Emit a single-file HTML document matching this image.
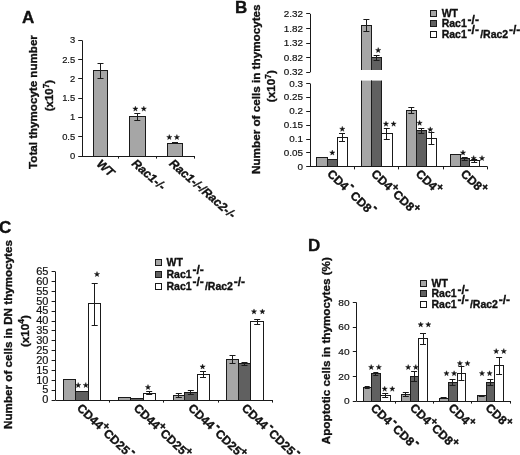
<!DOCTYPE html>
<html><head><meta charset="utf-8"><title>Figure</title>
<style>html,body{margin:0;padding:0;background:#fff;}svg{display:block;will-change:transform;}</style></head>
<body>
<svg width="520" height="455" viewBox="0 0 520 455" font-family="Liberation Sans, sans-serif">
<defs><filter id="soft" x="0" y="0" width="100%" height="100%" filterUnits="userSpaceOnUse" color-interpolation-filters="sRGB"><feGaussianBlur stdDeviation="0.4"/></filter></defs>
<rect x="0" y="0" width="520" height="455" fill="#ffffff"/>
<g filter="url(#soft)">
<rect x="-5" y="-5" width="530" height="465" fill="#ffffff"/>
<text x="22.00" y="22.50" font-size="17" font-weight="bold" font-style="normal" text-anchor="start" fill="#111111" stroke="#111111" stroke-width="0.35" >A</text>
<text x="235.00" y="12.50" font-size="17" font-weight="bold" font-style="normal" text-anchor="start" fill="#111111" stroke="#111111" stroke-width="0.35" >B</text>
<text x="-1.00" y="232.50" font-size="17" font-weight="bold" font-style="normal" text-anchor="start" fill="#111111" stroke="#111111" stroke-width="0.35" >C</text>
<text x="308.10" y="251.30" font-size="17" font-weight="bold" font-style="normal" text-anchor="start" fill="#111111" stroke="#111111" stroke-width="0.35" >D</text>
<line x1="82.50" y1="40.35" x2="82.50" y2="156.00" stroke="#1a1a1a" stroke-width="1"/>
<line x1="78.20" y1="156.50" x2="82.00" y2="156.50" stroke="#1a1a1a" stroke-width="1"/>
<text transform="translate(75.20 159.01) scale(1.0 1)" font-size="9.4" text-anchor="end" fill="#111111" stroke="#111111" stroke-width="0.18">0</text>
<line x1="78.20" y1="136.50" x2="82.00" y2="136.50" stroke="#1a1a1a" stroke-width="1"/>
<text transform="translate(75.20 139.73) scale(1.0 1)" font-size="9.4" text-anchor="end" fill="#111111" stroke="#111111" stroke-width="0.18">0.5</text>
<line x1="78.20" y1="117.50" x2="82.00" y2="117.50" stroke="#1a1a1a" stroke-width="1"/>
<text transform="translate(75.20 120.46) scale(1.0 1)" font-size="9.4" text-anchor="end" fill="#111111" stroke="#111111" stroke-width="0.18">1</text>
<line x1="78.20" y1="98.50" x2="82.00" y2="98.50" stroke="#1a1a1a" stroke-width="1"/>
<text transform="translate(75.20 101.18) scale(1.0 1)" font-size="9.4" text-anchor="end" fill="#111111" stroke="#111111" stroke-width="0.18">1.5</text>
<line x1="78.20" y1="78.50" x2="82.00" y2="78.50" stroke="#1a1a1a" stroke-width="1"/>
<text transform="translate(75.20 81.91) scale(1.0 1)" font-size="9.4" text-anchor="end" fill="#111111" stroke="#111111" stroke-width="0.18">2</text>
<line x1="78.20" y1="59.50" x2="82.00" y2="59.50" stroke="#1a1a1a" stroke-width="1"/>
<text transform="translate(75.20 62.63) scale(1.0 1)" font-size="9.4" text-anchor="end" fill="#111111" stroke="#111111" stroke-width="0.18">2.5</text>
<line x1="78.20" y1="40.50" x2="82.00" y2="40.50" stroke="#1a1a1a" stroke-width="1"/>
<text transform="translate(75.20 43.36) scale(1.0 1)" font-size="9.4" text-anchor="end" fill="#111111" stroke="#111111" stroke-width="0.18">3</text>
<line x1="82.00" y1="156.50" x2="194.00" y2="156.50" stroke="#1a1a1a" stroke-width="1"/>
<line x1="118.50" y1="156.00" x2="118.50" y2="158.60" stroke="#1a1a1a" stroke-width="1"/>
<line x1="156.50" y1="156.00" x2="156.50" y2="158.60" stroke="#1a1a1a" stroke-width="1"/>
<line x1="194.50" y1="156.00" x2="194.50" y2="158.60" stroke="#1a1a1a" stroke-width="1"/>
<rect x="93.50" y="70.50" width="14.00" height="86.00" fill="#a6a6a6" stroke="#1a1a1a" stroke-width="1"/>
<line x1="100.50" y1="63.00" x2="100.50" y2="78.00" stroke="#1a1a1a" stroke-width="1"/>
<line x1="97.50" y1="63.50" x2="103.50" y2="63.50" stroke="#1a1a1a" stroke-width="1"/>
<line x1="97.50" y1="78.50" x2="103.50" y2="78.50" stroke="#1a1a1a" stroke-width="1"/>
<rect x="129.50" y="116.50" width="16.00" height="40.00" fill="#a6a6a6" stroke="#1a1a1a" stroke-width="1"/>
<line x1="137.50" y1="113.20" x2="137.50" y2="120.00" stroke="#1a1a1a" stroke-width="1"/>
<line x1="134.30" y1="113.50" x2="140.30" y2="113.50" stroke="#1a1a1a" stroke-width="1"/>
<line x1="134.30" y1="120.50" x2="140.30" y2="120.50" stroke="#1a1a1a" stroke-width="1"/>
<rect x="167.50" y="143.50" width="15.00" height="13.00" fill="#a6a6a6" stroke="#1a1a1a" stroke-width="1"/>
<line x1="175.50" y1="142.30" x2="175.50" y2="143.70" stroke="#1a1a1a" stroke-width="1"/>
<line x1="172.00" y1="142.50" x2="178.00" y2="142.50" stroke="#1a1a1a" stroke-width="1"/>
<line x1="172.00" y1="143.50" x2="178.00" y2="143.50" stroke="#1a1a1a" stroke-width="1"/>
<polygon points="135.40,106.15 136.05,108.01 138.02,108.05 136.45,109.24 137.02,111.12 135.40,110.00 133.78,111.12 134.35,109.24 132.78,108.05 134.75,108.01" fill="#111" stroke="#111" stroke-width="0.4" stroke-linejoin="round"/>
<polygon points="143.80,106.15 144.45,108.01 146.42,108.05 144.85,109.24 145.42,111.12 143.80,110.00 142.18,111.12 142.75,109.24 141.18,108.05 143.15,108.01" fill="#111" stroke="#111" stroke-width="0.4" stroke-linejoin="round"/>
<polygon points="169.30,134.55 169.95,136.41 171.92,136.45 170.35,137.64 170.92,139.52 169.30,138.40 167.68,139.52 168.25,137.64 166.68,136.45 168.65,136.41" fill="#111" stroke="#111" stroke-width="0.4" stroke-linejoin="round"/>
<polygon points="176.90,134.55 177.55,136.41 179.52,136.45 177.95,137.64 178.52,139.52 176.90,138.40 175.28,139.52 175.85,137.64 174.28,136.45 176.25,136.41" fill="#111" stroke="#111" stroke-width="0.4" stroke-linejoin="round"/>
<text x="37.00" y="102.00" font-size="11.6" font-weight="bold" font-style="normal" text-anchor="middle" fill="#111111" stroke="#111111" stroke-width="0.35" transform="rotate(-90 37.00 102.00)" >Total thymocyte number</text>
<text x="53.00" y="95.50" font-size="11.4" font-weight="bold" font-style="normal" text-anchor="middle" fill="#111111" stroke="#111111" stroke-width="0.35" transform="rotate(-90 53.00 95.50)" >(x10<tspan dy="-4.5" font-size="8.5">7</tspan><tspan dy="4.5">)</tspan></text>
<text x="96.00" y="165.00" font-size="12" font-weight="bold" font-style="italic" text-anchor="start" fill="#111111" stroke="#111111" stroke-width="0.35" transform="rotate(41 96.00 165.00)" >WT</text>
<text x="131.00" y="164.50" font-size="12" font-weight="bold" font-style="italic" text-anchor="start" fill="#111111" stroke="#111111" stroke-width="0.35" transform="rotate(41 131.00 164.50)" >Rac1-/-</text>
<text x="168.50" y="164.50" font-size="12" font-weight="bold" font-style="italic" text-anchor="start" fill="#111111" stroke="#111111" stroke-width="0.35" transform="rotate(41 168.50 164.50)" >Rac1-/-/Rac2-/-</text>
<line x1="310.50" y1="83.50" x2="310.50" y2="166.80" stroke="#1a1a1a" stroke-width="1"/>
<line x1="306.20" y1="166.50" x2="310.00" y2="166.50" stroke="#1a1a1a" stroke-width="1"/>
<text transform="translate(302.90 169.97) scale(1.0 1)" font-size="9.9" text-anchor="end" fill="#111111" stroke="#111111" stroke-width="0.18">0</text>
<line x1="306.20" y1="152.50" x2="310.00" y2="152.50" stroke="#1a1a1a" stroke-width="1"/>
<text transform="translate(302.90 156.07) scale(1.0 1)" font-size="9.9" text-anchor="end" fill="#111111" stroke="#111111" stroke-width="0.18">0.05</text>
<line x1="306.20" y1="139.50" x2="310.00" y2="139.50" stroke="#1a1a1a" stroke-width="1"/>
<text transform="translate(302.90 142.17) scale(1.0 1)" font-size="9.9" text-anchor="end" fill="#111111" stroke="#111111" stroke-width="0.18">0.1</text>
<line x1="306.20" y1="125.50" x2="310.00" y2="125.50" stroke="#1a1a1a" stroke-width="1"/>
<text transform="translate(302.90 128.27) scale(1.0 1)" font-size="9.9" text-anchor="end" fill="#111111" stroke="#111111" stroke-width="0.18">0.15</text>
<line x1="306.20" y1="111.50" x2="310.00" y2="111.50" stroke="#1a1a1a" stroke-width="1"/>
<text transform="translate(302.90 114.37) scale(1.0 1)" font-size="9.9" text-anchor="end" fill="#111111" stroke="#111111" stroke-width="0.18">0.2</text>
<line x1="306.20" y1="97.50" x2="310.00" y2="97.50" stroke="#1a1a1a" stroke-width="1"/>
<text transform="translate(302.90 100.47) scale(1.0 1)" font-size="9.9" text-anchor="end" fill="#111111" stroke="#111111" stroke-width="0.18">0.25</text>
<line x1="306.20" y1="83.50" x2="310.00" y2="83.50" stroke="#1a1a1a" stroke-width="1"/>
<text transform="translate(302.90 86.57) scale(1.0 1)" font-size="9.9" text-anchor="end" fill="#111111" stroke="#111111" stroke-width="0.18">0.3</text>
<line x1="310.50" y1="13.80" x2="310.50" y2="72.30" stroke="#1a1a1a" stroke-width="1"/>
<line x1="306.20" y1="72.50" x2="310.00" y2="72.50" stroke="#1a1a1a" stroke-width="1"/>
<text transform="translate(302.90 75.47) scale(1.0 1)" font-size="9.9" text-anchor="end" fill="#111111" stroke="#111111" stroke-width="0.18">0.32</text>
<line x1="306.20" y1="57.50" x2="310.00" y2="57.50" stroke="#1a1a1a" stroke-width="1"/>
<text transform="translate(302.90 60.77) scale(1.0 1)" font-size="9.9" text-anchor="end" fill="#111111" stroke="#111111" stroke-width="0.18">0.82</text>
<line x1="306.20" y1="43.50" x2="310.00" y2="43.50" stroke="#1a1a1a" stroke-width="1"/>
<text transform="translate(302.90 46.17) scale(1.0 1)" font-size="9.9" text-anchor="end" fill="#111111" stroke="#111111" stroke-width="0.18">1.32</text>
<line x1="306.20" y1="28.50" x2="310.00" y2="28.50" stroke="#1a1a1a" stroke-width="1"/>
<text transform="translate(302.90 31.57) scale(1.0 1)" font-size="9.9" text-anchor="end" fill="#111111" stroke="#111111" stroke-width="0.18">1.82</text>
<line x1="306.20" y1="13.50" x2="310.00" y2="13.50" stroke="#1a1a1a" stroke-width="1"/>
<text transform="translate(302.90 16.97) scale(1.0 1)" font-size="9.9" text-anchor="end" fill="#111111" stroke="#111111" stroke-width="0.18">2.32</text>
<line x1="310.00" y1="166.50" x2="487.60" y2="166.50" stroke="#1a1a1a" stroke-width="1"/>
<line x1="354.50" y1="166.80" x2="354.50" y2="169.40" stroke="#1a1a1a" stroke-width="1"/>
<line x1="398.50" y1="166.80" x2="398.50" y2="169.40" stroke="#1a1a1a" stroke-width="1"/>
<line x1="443.50" y1="166.80" x2="443.50" y2="169.40" stroke="#1a1a1a" stroke-width="1"/>
<line x1="487.50" y1="166.80" x2="487.50" y2="169.40" stroke="#1a1a1a" stroke-width="1"/>
<rect x="316.50" y="157.50" width="11.00" height="9.00" fill="#a6a6a6" stroke="#1a1a1a" stroke-width="1"/>
<rect x="327.50" y="159.50" width="10.00" height="7.00" fill="#606060" stroke="#1a1a1a" stroke-width="1"/>
<rect x="337.50" y="137.50" width="10.00" height="29.00" fill="#ffffff" stroke="#1a1a1a" stroke-width="1"/>
<line x1="342.50" y1="133.50" x2="342.50" y2="141.00" stroke="#1a1a1a" stroke-width="1"/>
<line x1="339.00" y1="133.50" x2="345.00" y2="133.50" stroke="#1a1a1a" stroke-width="1"/>
<line x1="339.00" y1="141.50" x2="345.00" y2="141.50" stroke="#1a1a1a" stroke-width="1"/>
<rect x="361.50" y="80.60" width="10.00" height="86.20" fill="#a6a6a6"/>
<line x1="361.50" y1="80.60" x2="361.50" y2="166.80" stroke="#1a1a1a" stroke-width="1"/>
<line x1="371.50" y1="80.60" x2="371.50" y2="166.80" stroke="#1a1a1a" stroke-width="1"/>
<line x1="361.00" y1="166.50" x2="372.00" y2="166.50" stroke="#1a1a1a" stroke-width="1"/>
<rect x="371.50" y="80.60" width="10.00" height="86.20" fill="#606060"/>
<line x1="371.50" y1="80.60" x2="371.50" y2="166.80" stroke="#1a1a1a" stroke-width="1"/>
<line x1="381.50" y1="80.60" x2="381.50" y2="166.80" stroke="#1a1a1a" stroke-width="1"/>
<line x1="371.00" y1="166.50" x2="382.00" y2="166.50" stroke="#1a1a1a" stroke-width="1"/>
<rect x="381.50" y="133.50" width="11.00" height="33.00" fill="#ffffff" stroke="#1a1a1a" stroke-width="1"/>
<line x1="386.50" y1="128.50" x2="386.50" y2="139.50" stroke="#1a1a1a" stroke-width="1"/>
<line x1="383.80" y1="128.50" x2="389.80" y2="128.50" stroke="#1a1a1a" stroke-width="1"/>
<line x1="383.80" y1="139.50" x2="389.80" y2="139.50" stroke="#1a1a1a" stroke-width="1"/>
<rect x="361.50" y="25.20" width="10.00" height="44.80" fill="#a6a6a6"/>
<line x1="361.50" y1="25.20" x2="361.50" y2="70.00" stroke="#1a1a1a" stroke-width="1"/>
<line x1="371.50" y1="25.20" x2="371.50" y2="70.00" stroke="#1a1a1a" stroke-width="1"/>
<line x1="361.00" y1="25.50" x2="372.00" y2="25.50" stroke="#1a1a1a" stroke-width="1"/>
<rect x="371.50" y="57.80" width="10.00" height="12.20" fill="#606060"/>
<line x1="371.50" y1="57.80" x2="371.50" y2="70.00" stroke="#1a1a1a" stroke-width="1"/>
<line x1="381.50" y1="57.80" x2="381.50" y2="70.00" stroke="#1a1a1a" stroke-width="1"/>
<line x1="371.00" y1="57.50" x2="382.00" y2="57.50" stroke="#1a1a1a" stroke-width="1"/>
<line x1="366.50" y1="19.00" x2="366.50" y2="31.70" stroke="#1a1a1a" stroke-width="1"/>
<line x1="363.40" y1="19.50" x2="369.40" y2="19.50" stroke="#1a1a1a" stroke-width="1"/>
<line x1="363.40" y1="31.50" x2="369.40" y2="31.50" stroke="#1a1a1a" stroke-width="1"/>
<line x1="376.50" y1="55.50" x2="376.50" y2="60.00" stroke="#1a1a1a" stroke-width="1"/>
<line x1="373.60" y1="55.50" x2="379.60" y2="55.50" stroke="#1a1a1a" stroke-width="1"/>
<line x1="373.60" y1="60.50" x2="379.60" y2="60.50" stroke="#1a1a1a" stroke-width="1"/>
<rect x="406.50" y="110.50" width="10.00" height="56.00" fill="#a6a6a6" stroke="#1a1a1a" stroke-width="1"/>
<rect x="416.50" y="130.50" width="10.00" height="36.00" fill="#606060" stroke="#1a1a1a" stroke-width="1"/>
<rect x="426.50" y="138.50" width="10.00" height="28.00" fill="#ffffff" stroke="#1a1a1a" stroke-width="1"/>
<line x1="411.50" y1="107.00" x2="411.50" y2="113.00" stroke="#1a1a1a" stroke-width="1"/>
<line x1="408.30" y1="107.50" x2="414.30" y2="107.50" stroke="#1a1a1a" stroke-width="1"/>
<line x1="408.30" y1="113.50" x2="414.30" y2="113.50" stroke="#1a1a1a" stroke-width="1"/>
<line x1="421.50" y1="128.20" x2="421.50" y2="133.30" stroke="#1a1a1a" stroke-width="1"/>
<line x1="418.30" y1="128.50" x2="424.30" y2="128.50" stroke="#1a1a1a" stroke-width="1"/>
<line x1="418.30" y1="133.50" x2="424.30" y2="133.50" stroke="#1a1a1a" stroke-width="1"/>
<line x1="431.50" y1="132.00" x2="431.50" y2="144.00" stroke="#1a1a1a" stroke-width="1"/>
<line x1="428.40" y1="132.50" x2="434.40" y2="132.50" stroke="#1a1a1a" stroke-width="1"/>
<line x1="428.40" y1="144.50" x2="434.40" y2="144.50" stroke="#1a1a1a" stroke-width="1"/>
<rect x="450.50" y="154.50" width="10.00" height="12.00" fill="#a6a6a6" stroke="#1a1a1a" stroke-width="1"/>
<rect x="460.50" y="158.50" width="9.00" height="8.00" fill="#606060" stroke="#1a1a1a" stroke-width="1"/>
<rect x="469.50" y="160.50" width="10.00" height="6.00" fill="#ffffff" stroke="#1a1a1a" stroke-width="1"/>
<line x1="464.50" y1="157.50" x2="464.50" y2="160.00" stroke="#1a1a1a" stroke-width="1"/>
<line x1="461.70" y1="157.50" x2="467.70" y2="157.50" stroke="#1a1a1a" stroke-width="1"/>
<line x1="461.70" y1="160.50" x2="467.70" y2="160.50" stroke="#1a1a1a" stroke-width="1"/>
<line x1="474.50" y1="159.50" x2="474.50" y2="162.00" stroke="#1a1a1a" stroke-width="1"/>
<line x1="471.20" y1="159.50" x2="477.20" y2="159.50" stroke="#1a1a1a" stroke-width="1"/>
<line x1="471.20" y1="162.50" x2="477.20" y2="162.50" stroke="#1a1a1a" stroke-width="1"/>
<polygon points="332.30,150.05 332.95,151.91 334.92,151.95 333.35,153.14 333.92,155.02 332.30,153.90 330.68,155.02 331.25,153.14 329.68,151.95 331.65,151.91" fill="#111" stroke="#111" stroke-width="0.4" stroke-linejoin="round"/>
<polygon points="342.30,126.35 342.95,128.21 344.92,128.25 343.35,129.44 343.92,131.32 342.30,130.20 340.68,131.32 341.25,129.44 339.68,128.25 341.65,128.21" fill="#111" stroke="#111" stroke-width="0.4" stroke-linejoin="round"/>
<polygon points="378.20,47.55 378.85,49.41 380.82,49.45 379.25,50.64 379.82,52.52 378.20,51.40 376.58,52.52 377.15,50.64 375.58,49.45 377.55,49.41" fill="#111" stroke="#111" stroke-width="0.4" stroke-linejoin="round"/>
<polygon points="386.00,121.25 386.65,123.11 388.62,123.15 387.05,124.34 387.62,126.22 386.00,125.10 384.38,126.22 384.95,124.34 383.38,123.15 385.35,123.11" fill="#111" stroke="#111" stroke-width="0.4" stroke-linejoin="round"/>
<polygon points="393.60,121.25 394.25,123.11 396.22,123.15 394.65,124.34 395.22,126.22 393.60,125.10 391.98,126.22 392.55,124.34 390.98,123.15 392.95,123.11" fill="#111" stroke="#111" stroke-width="0.4" stroke-linejoin="round"/>
<polygon points="419.60,120.35 420.25,122.21 422.22,122.25 420.65,123.44 421.22,125.32 419.60,124.20 417.98,125.32 418.55,123.44 416.98,122.25 418.95,122.21" fill="#111" stroke="#111" stroke-width="0.4" stroke-linejoin="round"/>
<polygon points="430.30,126.85 430.95,128.71 432.92,128.75 431.35,129.94 431.92,131.82 430.30,130.70 428.68,131.82 429.25,129.94 427.68,128.75 429.65,128.71" fill="#111" stroke="#111" stroke-width="0.4" stroke-linejoin="round"/>
<polygon points="463.00,150.05 463.65,151.91 465.62,151.95 464.05,153.14 464.62,155.02 463.00,153.90 461.38,155.02 461.95,153.14 460.38,151.95 462.35,151.91" fill="#111" stroke="#111" stroke-width="0.4" stroke-linejoin="round"/>
<polygon points="473.70,155.55 474.35,157.41 476.32,157.45 474.75,158.64 475.32,160.52 473.70,159.40 472.08,160.52 472.65,158.64 471.08,157.45 473.05,157.41" fill="#111" stroke="#111" stroke-width="0.4" stroke-linejoin="round"/>
<polygon points="482.00,155.55 482.65,157.41 484.62,157.45 483.05,158.64 483.62,160.52 482.00,159.40 480.38,160.52 480.95,158.64 479.38,157.45 481.35,157.41" fill="#111" stroke="#111" stroke-width="0.4" stroke-linejoin="round"/>
<text x="260.50" y="89.20" font-size="11.7" font-weight="bold" font-style="normal" text-anchor="middle" fill="#111111" stroke="#111111" stroke-width="0.35" transform="rotate(-90 260.50 89.20)" >Number of cells in thymocytes</text>
<text x="275.30" y="86.10" font-size="11.7" font-weight="bold" font-style="normal" text-anchor="middle" fill="#111111" stroke="#111111" stroke-width="0.35" transform="rotate(-90 275.30 86.10)" >(x10<tspan dy="-4.5" font-size="8.5">7</tspan><tspan dy="4.5">)</tspan></text>
<rect x="430.50" y="10.50" width="6.00" height="6.00" fill="#a6a6a6" stroke="#1a1a1a" stroke-width="1"/>
<text x="441.70" y="16.50" font-size="10.5" font-weight="bold" font-style="normal" text-anchor="start" fill="#111111" stroke="#111111" stroke-width="0.35" >WT</text>
<rect x="430.50" y="20.50" width="6.00" height="6.00" fill="#606060" stroke="#1a1a1a" stroke-width="1"/>
<text x="441.70" y="27.00" font-size="10.5" font-weight="bold" font-style="normal" text-anchor="start" fill="#111111" stroke="#111111" stroke-width="0.35" >Rac1<tspan dy="-3.5" dx="0.8" font-size="12">-/-</tspan></text>
<rect x="430.50" y="31.50" width="6.00" height="6.00" fill="#ffffff" stroke="#1a1a1a" stroke-width="1"/>
<text x="441.70" y="37.50" font-size="10.5" font-weight="bold" font-style="normal" text-anchor="start" fill="#111111" stroke="#111111" stroke-width="0.35" >Rac1<tspan dy="-3.5" dx="0.8" font-size="12">-/-</tspan><tspan dy="3.5" dx="1.2">/Rac2</tspan><tspan dy="-3.5" dx="0.8" font-size="12">-/-</tspan></text>
<text x="326.50" y="174.70" font-size="12" font-weight="bold" font-style="normal" text-anchor="start" fill="#111111" stroke="#111111" stroke-width="0.35" transform="rotate(43.5 326.50 174.70)" >CD4<tspan dy="-6.3" dx="0.2" font-size="13">-</tspan><tspan dy="6.3" dx="3.2">CD8</tspan><tspan dy="-6.3" dx="0.2" font-size="13">-</tspan><tspan dy="6.3" dx="3.2"></tspan></text>
<text x="370.50" y="174.70" font-size="12" font-weight="bold" font-style="normal" text-anchor="start" fill="#111111" stroke="#111111" stroke-width="0.35" transform="rotate(43.5 370.50 174.70)" >CD4<tspan dy="-4.6" dx="-0.45" font-size="11">+</tspan><tspan dy="4.6" dx="-0.15">CD8</tspan><tspan dy="-4.6" dx="-0.45" font-size="11">+</tspan><tspan dy="4.6" dx="-0.15"></tspan></text>
<text x="415.00" y="174.70" font-size="12" font-weight="bold" font-style="normal" text-anchor="start" fill="#111111" stroke="#111111" stroke-width="0.35" transform="rotate(43.5 415.00 174.70)" >CD4<tspan dy="-4.6" dx="-0.45" font-size="11">+</tspan><tspan dy="4.6" dx="-0.15"></tspan></text>
<text x="460.00" y="174.70" font-size="12" font-weight="bold" font-style="normal" text-anchor="start" fill="#111111" stroke="#111111" stroke-width="0.35" transform="rotate(43.5 460.00 174.70)" >CD8<tspan dy="-4.6" dx="-0.45" font-size="11">+</tspan><tspan dy="4.6" dx="-0.15"></tspan></text>
<line x1="55.50" y1="271.70" x2="55.50" y2="400.00" stroke="#1a1a1a" stroke-width="1"/>
<line x1="51.60" y1="400.50" x2="55.40" y2="400.50" stroke="#1a1a1a" stroke-width="1"/>
<text transform="translate(48.40 403.30) scale(1.07 1)" font-size="10.3" text-anchor="end" fill="#111111" stroke="#111111" stroke-width="0.18">0</text>
<line x1="51.60" y1="390.50" x2="55.40" y2="390.50" stroke="#1a1a1a" stroke-width="1"/>
<text transform="translate(48.40 393.43) scale(1.07 1)" font-size="10.3" text-anchor="end" fill="#111111" stroke="#111111" stroke-width="0.18">5</text>
<line x1="51.60" y1="380.50" x2="55.40" y2="380.50" stroke="#1a1a1a" stroke-width="1"/>
<text transform="translate(48.40 383.56) scale(1.07 1)" font-size="10.3" text-anchor="end" fill="#111111" stroke="#111111" stroke-width="0.18">10</text>
<line x1="51.60" y1="370.50" x2="55.40" y2="370.50" stroke="#1a1a1a" stroke-width="1"/>
<text transform="translate(48.40 373.69) scale(1.07 1)" font-size="10.3" text-anchor="end" fill="#111111" stroke="#111111" stroke-width="0.18">15</text>
<line x1="51.60" y1="360.50" x2="55.40" y2="360.50" stroke="#1a1a1a" stroke-width="1"/>
<text transform="translate(48.40 363.82) scale(1.07 1)" font-size="10.3" text-anchor="end" fill="#111111" stroke="#111111" stroke-width="0.18">20</text>
<line x1="51.60" y1="350.50" x2="55.40" y2="350.50" stroke="#1a1a1a" stroke-width="1"/>
<text transform="translate(48.40 353.95) scale(1.07 1)" font-size="10.3" text-anchor="end" fill="#111111" stroke="#111111" stroke-width="0.18">25</text>
<line x1="51.60" y1="340.50" x2="55.40" y2="340.50" stroke="#1a1a1a" stroke-width="1"/>
<text transform="translate(48.40 344.08) scale(1.07 1)" font-size="10.3" text-anchor="end" fill="#111111" stroke="#111111" stroke-width="0.18">30</text>
<line x1="51.60" y1="330.50" x2="55.40" y2="330.50" stroke="#1a1a1a" stroke-width="1"/>
<text transform="translate(48.40 334.21) scale(1.07 1)" font-size="10.3" text-anchor="end" fill="#111111" stroke="#111111" stroke-width="0.18">35</text>
<line x1="51.60" y1="321.50" x2="55.40" y2="321.50" stroke="#1a1a1a" stroke-width="1"/>
<text transform="translate(48.40 324.34) scale(1.07 1)" font-size="10.3" text-anchor="end" fill="#111111" stroke="#111111" stroke-width="0.18">40</text>
<line x1="51.60" y1="311.50" x2="55.40" y2="311.50" stroke="#1a1a1a" stroke-width="1"/>
<text transform="translate(48.40 314.47) scale(1.07 1)" font-size="10.3" text-anchor="end" fill="#111111" stroke="#111111" stroke-width="0.18">45</text>
<line x1="51.60" y1="301.50" x2="55.40" y2="301.50" stroke="#1a1a1a" stroke-width="1"/>
<text transform="translate(48.40 304.60) scale(1.07 1)" font-size="10.3" text-anchor="end" fill="#111111" stroke="#111111" stroke-width="0.18">50</text>
<line x1="51.60" y1="291.50" x2="55.40" y2="291.50" stroke="#1a1a1a" stroke-width="1"/>
<text transform="translate(48.40 294.73) scale(1.07 1)" font-size="10.3" text-anchor="end" fill="#111111" stroke="#111111" stroke-width="0.18">55</text>
<line x1="51.60" y1="281.50" x2="55.40" y2="281.50" stroke="#1a1a1a" stroke-width="1"/>
<text transform="translate(48.40 284.86) scale(1.07 1)" font-size="10.3" text-anchor="end" fill="#111111" stroke="#111111" stroke-width="0.18">60</text>
<line x1="51.60" y1="271.50" x2="55.40" y2="271.50" stroke="#1a1a1a" stroke-width="1"/>
<text transform="translate(48.40 274.99) scale(1.07 1)" font-size="10.3" text-anchor="end" fill="#111111" stroke="#111111" stroke-width="0.18">65</text>
<line x1="55.40" y1="400.50" x2="272.50" y2="400.50" stroke="#1a1a1a" stroke-width="1"/>
<line x1="109.50" y1="400.00" x2="109.50" y2="402.60" stroke="#1a1a1a" stroke-width="1"/>
<line x1="163.50" y1="400.00" x2="163.50" y2="402.60" stroke="#1a1a1a" stroke-width="1"/>
<line x1="218.50" y1="400.00" x2="218.50" y2="402.60" stroke="#1a1a1a" stroke-width="1"/>
<line x1="272.50" y1="400.00" x2="272.50" y2="402.60" stroke="#1a1a1a" stroke-width="1"/>
<rect x="63.50" y="379.50" width="12.00" height="21.00" fill="#a6a6a6" stroke="#1a1a1a" stroke-width="1"/>
<rect x="75.50" y="391.50" width="13.00" height="9.00" fill="#606060" stroke="#1a1a1a" stroke-width="1"/>
<rect x="88.50" y="303.50" width="12.00" height="97.00" fill="#ffffff" stroke="#1a1a1a" stroke-width="1"/>
<line x1="94.50" y1="283.00" x2="94.50" y2="325.50" stroke="#1a1a1a" stroke-width="1"/>
<line x1="91.70" y1="283.50" x2="97.70" y2="283.50" stroke="#1a1a1a" stroke-width="1"/>
<line x1="91.70" y1="325.50" x2="97.70" y2="325.50" stroke="#1a1a1a" stroke-width="1"/>
<rect x="118.50" y="397.50" width="12.00" height="3.00" fill="#a6a6a6" stroke="#1a1a1a" stroke-width="1"/>
<rect x="130.50" y="398.50" width="13.00" height="2.00" fill="#606060" stroke="#1a1a1a" stroke-width="1"/>
<rect x="143.50" y="393.50" width="12.00" height="7.00" fill="#ffffff" stroke="#1a1a1a" stroke-width="1"/>
<line x1="149.50" y1="391.50" x2="149.50" y2="394.50" stroke="#1a1a1a" stroke-width="1"/>
<line x1="146.20" y1="391.50" x2="152.20" y2="391.50" stroke="#1a1a1a" stroke-width="1"/>
<line x1="146.20" y1="394.50" x2="152.20" y2="394.50" stroke="#1a1a1a" stroke-width="1"/>
<rect x="173.50" y="395.50" width="11.00" height="5.00" fill="#a6a6a6" stroke="#1a1a1a" stroke-width="1"/>
<rect x="184.50" y="392.50" width="13.00" height="8.00" fill="#606060" stroke="#1a1a1a" stroke-width="1"/>
<rect x="197.50" y="374.50" width="12.00" height="26.00" fill="#ffffff" stroke="#1a1a1a" stroke-width="1"/>
<line x1="178.50" y1="393.50" x2="178.50" y2="397.00" stroke="#1a1a1a" stroke-width="1"/>
<line x1="175.80" y1="393.50" x2="181.80" y2="393.50" stroke="#1a1a1a" stroke-width="1"/>
<line x1="175.80" y1="397.50" x2="181.80" y2="397.50" stroke="#1a1a1a" stroke-width="1"/>
<line x1="190.50" y1="390.50" x2="190.50" y2="394.00" stroke="#1a1a1a" stroke-width="1"/>
<line x1="187.80" y1="390.50" x2="193.80" y2="390.50" stroke="#1a1a1a" stroke-width="1"/>
<line x1="187.80" y1="394.50" x2="193.80" y2="394.50" stroke="#1a1a1a" stroke-width="1"/>
<line x1="203.50" y1="371.50" x2="203.50" y2="377.50" stroke="#1a1a1a" stroke-width="1"/>
<line x1="200.00" y1="371.50" x2="206.00" y2="371.50" stroke="#1a1a1a" stroke-width="1"/>
<line x1="200.00" y1="377.50" x2="206.00" y2="377.50" stroke="#1a1a1a" stroke-width="1"/>
<rect x="226.50" y="359.50" width="12.00" height="41.00" fill="#a6a6a6" stroke="#1a1a1a" stroke-width="1"/>
<rect x="238.50" y="363.50" width="12.00" height="37.00" fill="#606060" stroke="#1a1a1a" stroke-width="1"/>
<rect x="250.50" y="321.50" width="13.00" height="79.00" fill="#ffffff" stroke="#1a1a1a" stroke-width="1"/>
<line x1="232.50" y1="355.40" x2="232.50" y2="363.00" stroke="#1a1a1a" stroke-width="1"/>
<line x1="229.50" y1="355.50" x2="235.50" y2="355.50" stroke="#1a1a1a" stroke-width="1"/>
<line x1="229.50" y1="363.50" x2="235.50" y2="363.50" stroke="#1a1a1a" stroke-width="1"/>
<line x1="244.50" y1="362.50" x2="244.50" y2="365.00" stroke="#1a1a1a" stroke-width="1"/>
<line x1="241.50" y1="362.50" x2="247.50" y2="362.50" stroke="#1a1a1a" stroke-width="1"/>
<line x1="241.50" y1="365.50" x2="247.50" y2="365.50" stroke="#1a1a1a" stroke-width="1"/>
<line x1="257.50" y1="319.00" x2="257.50" y2="324.00" stroke="#1a1a1a" stroke-width="1"/>
<line x1="254.20" y1="319.50" x2="260.20" y2="319.50" stroke="#1a1a1a" stroke-width="1"/>
<line x1="254.20" y1="324.50" x2="260.20" y2="324.50" stroke="#1a1a1a" stroke-width="1"/>
<polygon points="97.00,271.55 97.65,273.41 99.62,273.45 98.05,274.64 98.62,276.52 97.00,275.40 95.38,276.52 95.95,274.64 94.38,273.45 96.35,273.41" fill="#111" stroke="#111" stroke-width="0.4" stroke-linejoin="round"/>
<polygon points="78.20,382.55 78.85,384.41 80.82,384.45 79.25,385.64 79.82,387.52 78.20,386.40 76.58,387.52 77.15,385.64 75.58,384.45 77.55,384.41" fill="#111" stroke="#111" stroke-width="0.4" stroke-linejoin="round"/>
<polygon points="85.80,382.55 86.45,384.41 88.42,384.45 86.85,385.64 87.42,387.52 85.80,386.40 84.18,387.52 84.75,385.64 83.18,384.45 85.15,384.41" fill="#111" stroke="#111" stroke-width="0.4" stroke-linejoin="round"/>
<polygon points="148.00,384.55 148.65,386.41 150.62,386.45 149.05,387.64 149.62,389.52 148.00,388.40 146.38,389.52 146.95,387.64 145.38,386.45 147.35,386.41" fill="#111" stroke="#111" stroke-width="0.4" stroke-linejoin="round"/>
<polygon points="202.60,364.05 203.25,365.91 205.22,365.95 203.65,367.14 204.22,369.02 202.60,367.90 200.98,369.02 201.55,367.14 199.98,365.95 201.95,365.91" fill="#111" stroke="#111" stroke-width="0.4" stroke-linejoin="round"/>
<polygon points="254.00,308.95 254.65,310.81 256.62,310.85 255.05,312.04 255.62,313.92 254.00,312.80 252.38,313.92 252.95,312.04 251.38,310.85 253.35,310.81" fill="#111" stroke="#111" stroke-width="0.4" stroke-linejoin="round"/>
<polygon points="262.40,308.95 263.05,310.81 265.02,310.85 263.45,312.04 264.02,313.92 262.40,312.80 260.78,313.92 261.35,312.04 259.78,310.85 261.75,310.81" fill="#111" stroke="#111" stroke-width="0.4" stroke-linejoin="round"/>
<text x="11.50" y="334.50" font-size="11.65" font-weight="bold" font-style="normal" text-anchor="middle" fill="#111111" stroke="#111111" stroke-width="0.35" transform="rotate(-90 11.50 334.50)" >Number of cells in DN thymocytes</text>
<text x="28.50" y="331.00" font-size="11.7" font-weight="bold" font-style="normal" text-anchor="middle" fill="#111111" stroke="#111111" stroke-width="0.35" transform="rotate(-90 28.50 331.00)" >(x10<tspan dy="-4.5" font-size="8.5">4</tspan><tspan dy="4.5">)</tspan></text>
<rect x="155.50" y="259.50" width="6.00" height="6.00" fill="#a6a6a6" stroke="#1a1a1a" stroke-width="1"/>
<text x="166.50" y="265.90" font-size="10.5" font-weight="bold" font-style="normal" text-anchor="start" fill="#111111" stroke="#111111" stroke-width="0.35" >WT</text>
<rect x="155.50" y="271.50" width="6.00" height="6.00" fill="#606060" stroke="#1a1a1a" stroke-width="1"/>
<text x="166.50" y="277.70" font-size="10.5" font-weight="bold" font-style="normal" text-anchor="start" fill="#111111" stroke="#111111" stroke-width="0.35" >Rac1<tspan dy="-3.5" dx="0.8" font-size="12">-/-</tspan></text>
<rect x="155.50" y="283.50" width="6.00" height="6.00" fill="#ffffff" stroke="#1a1a1a" stroke-width="1"/>
<text x="166.50" y="289.50" font-size="10.5" font-weight="bold" font-style="normal" text-anchor="start" fill="#111111" stroke="#111111" stroke-width="0.35" >Rac1<tspan dy="-3.5" dx="0.8" font-size="12">-/-</tspan><tspan dy="3.5" dx="1.2">/Rac2</tspan><tspan dy="-3.5" dx="0.8" font-size="12">-/-</tspan></text>
<text x="76.30" y="409.00" font-size="12" font-weight="bold" font-style="normal" text-anchor="start" fill="#111111" stroke="#111111" stroke-width="0.35" transform="rotate(43.5 76.30 409.00)" >CD44<tspan dy="-4.6" dx="-0.45" font-size="11">+</tspan><tspan dy="4.6" dx="-0.15">CD25</tspan><tspan dy="-5.0" dx="1.5" font-size="13">-</tspan><tspan dy="5.0" dx="0.7"></tspan></text>
<text x="133.00" y="409.00" font-size="12" font-weight="bold" font-style="normal" text-anchor="start" fill="#111111" stroke="#111111" stroke-width="0.35" transform="rotate(43.5 133.00 409.00)" >CD44<tspan dy="-4.6" dx="-0.45" font-size="11">+</tspan><tspan dy="4.6" dx="-0.15">CD25</tspan><tspan dy="-4.6" dx="-0.45" font-size="11">+</tspan><tspan dy="4.6" dx="-0.15"></tspan></text>
<text x="187.50" y="409.00" font-size="12" font-weight="bold" font-style="normal" text-anchor="start" fill="#111111" stroke="#111111" stroke-width="0.35" transform="rotate(43.5 187.50 409.00)" >CD44<tspan dy="-5.0" dx="1.5" font-size="13">-</tspan><tspan dy="5.0" dx="0.7">CD25</tspan><tspan dy="-4.6" dx="-0.45" font-size="11">+</tspan><tspan dy="4.6" dx="-0.15"></tspan></text>
<text x="241.00" y="409.00" font-size="12" font-weight="bold" font-style="normal" text-anchor="start" fill="#111111" stroke="#111111" stroke-width="0.35" transform="rotate(43.5 241.00 409.00)" >CD44<tspan dy="-5.0" dx="1.5" font-size="13">-</tspan><tspan dy="5.0" dx="0.7">CD25</tspan><tspan dy="-5.0" dx="1.5" font-size="13">-</tspan><tspan dy="5.0" dx="0.7"></tspan></text>
<line x1="356.50" y1="302.60" x2="356.50" y2="401.00" stroke="#1a1a1a" stroke-width="1"/>
<line x1="352.80" y1="401.50" x2="356.60" y2="401.50" stroke="#1a1a1a" stroke-width="1"/>
<text transform="translate(349.60 404.14) scale(1.04 1)" font-size="9.8" text-anchor="end" fill="#111111" stroke="#111111" stroke-width="0.18">0</text>
<line x1="352.80" y1="376.50" x2="356.60" y2="376.50" stroke="#1a1a1a" stroke-width="1"/>
<text transform="translate(349.60 379.54) scale(1.04 1)" font-size="9.8" text-anchor="end" fill="#111111" stroke="#111111" stroke-width="0.18">20</text>
<line x1="352.80" y1="351.50" x2="356.60" y2="351.50" stroke="#1a1a1a" stroke-width="1"/>
<text transform="translate(349.60 354.94) scale(1.04 1)" font-size="9.8" text-anchor="end" fill="#111111" stroke="#111111" stroke-width="0.18">40</text>
<line x1="352.80" y1="327.50" x2="356.60" y2="327.50" stroke="#1a1a1a" stroke-width="1"/>
<text transform="translate(349.60 330.34) scale(1.04 1)" font-size="9.8" text-anchor="end" fill="#111111" stroke="#111111" stroke-width="0.18">60</text>
<line x1="352.80" y1="302.50" x2="356.60" y2="302.50" stroke="#1a1a1a" stroke-width="1"/>
<text transform="translate(349.60 305.74) scale(1.04 1)" font-size="9.8" text-anchor="end" fill="#111111" stroke="#111111" stroke-width="0.18">80</text>
<line x1="356.60" y1="401.50" x2="510.00" y2="401.50" stroke="#1a1a1a" stroke-width="1"/>
<line x1="395.50" y1="401.00" x2="395.50" y2="403.60" stroke="#1a1a1a" stroke-width="1"/>
<line x1="433.50" y1="401.00" x2="433.50" y2="403.60" stroke="#1a1a1a" stroke-width="1"/>
<line x1="471.50" y1="401.00" x2="471.50" y2="403.60" stroke="#1a1a1a" stroke-width="1"/>
<line x1="510.50" y1="401.00" x2="510.50" y2="403.60" stroke="#1a1a1a" stroke-width="1"/>
<rect x="363.50" y="387.50" width="8.00" height="14.00" fill="#a6a6a6" stroke="#1a1a1a" stroke-width="1"/>
<rect x="371.50" y="373.50" width="9.00" height="28.00" fill="#606060" stroke="#1a1a1a" stroke-width="1"/>
<rect x="380.50" y="395.50" width="10.00" height="6.00" fill="#ffffff" stroke="#1a1a1a" stroke-width="1"/>
<line x1="367.50" y1="386.80" x2="367.50" y2="388.20" stroke="#1a1a1a" stroke-width="1"/>
<line x1="364.70" y1="386.50" x2="369.70" y2="386.50" stroke="#1a1a1a" stroke-width="1"/>
<line x1="364.70" y1="388.50" x2="369.70" y2="388.50" stroke="#1a1a1a" stroke-width="1"/>
<line x1="375.50" y1="372.50" x2="375.50" y2="375.00" stroke="#1a1a1a" stroke-width="1"/>
<line x1="373.30" y1="372.50" x2="378.30" y2="372.50" stroke="#1a1a1a" stroke-width="1"/>
<line x1="373.30" y1="375.50" x2="378.30" y2="375.50" stroke="#1a1a1a" stroke-width="1"/>
<line x1="385.50" y1="393.50" x2="385.50" y2="397.50" stroke="#1a1a1a" stroke-width="1"/>
<line x1="382.20" y1="393.50" x2="388.20" y2="393.50" stroke="#1a1a1a" stroke-width="1"/>
<line x1="382.20" y1="397.50" x2="388.20" y2="397.50" stroke="#1a1a1a" stroke-width="1"/>
<rect x="401.50" y="394.50" width="9.00" height="7.00" fill="#a6a6a6" stroke="#1a1a1a" stroke-width="1"/>
<rect x="410.50" y="376.50" width="8.00" height="25.00" fill="#606060" stroke="#1a1a1a" stroke-width="1"/>
<rect x="418.50" y="338.50" width="9.00" height="63.00" fill="#ffffff" stroke="#1a1a1a" stroke-width="1"/>
<line x1="405.50" y1="392.50" x2="405.50" y2="396.00" stroke="#1a1a1a" stroke-width="1"/>
<line x1="402.80" y1="392.50" x2="408.80" y2="392.50" stroke="#1a1a1a" stroke-width="1"/>
<line x1="402.80" y1="396.50" x2="408.80" y2="396.50" stroke="#1a1a1a" stroke-width="1"/>
<line x1="414.50" y1="371.50" x2="414.50" y2="381.00" stroke="#1a1a1a" stroke-width="1"/>
<line x1="411.10" y1="371.50" x2="417.10" y2="371.50" stroke="#1a1a1a" stroke-width="1"/>
<line x1="411.10" y1="381.50" x2="417.10" y2="381.50" stroke="#1a1a1a" stroke-width="1"/>
<line x1="423.50" y1="333.00" x2="423.50" y2="344.50" stroke="#1a1a1a" stroke-width="1"/>
<line x1="420.00" y1="333.50" x2="426.00" y2="333.50" stroke="#1a1a1a" stroke-width="1"/>
<line x1="420.00" y1="344.50" x2="426.00" y2="344.50" stroke="#1a1a1a" stroke-width="1"/>
<rect x="439.50" y="398.50" width="9.00" height="3.00" fill="#a6a6a6" stroke="#1a1a1a" stroke-width="1"/>
<rect x="448.50" y="382.50" width="9.00" height="19.00" fill="#606060" stroke="#1a1a1a" stroke-width="1"/>
<rect x="457.50" y="373.50" width="8.00" height="28.00" fill="#ffffff" stroke="#1a1a1a" stroke-width="1"/>
<line x1="443.50" y1="397.30" x2="443.50" y2="398.70" stroke="#1a1a1a" stroke-width="1"/>
<line x1="440.60" y1="397.50" x2="446.60" y2="397.50" stroke="#1a1a1a" stroke-width="1"/>
<line x1="440.60" y1="398.50" x2="446.60" y2="398.50" stroke="#1a1a1a" stroke-width="1"/>
<line x1="452.50" y1="379.50" x2="452.50" y2="385.50" stroke="#1a1a1a" stroke-width="1"/>
<line x1="449.50" y1="379.50" x2="455.50" y2="379.50" stroke="#1a1a1a" stroke-width="1"/>
<line x1="449.50" y1="385.50" x2="455.50" y2="385.50" stroke="#1a1a1a" stroke-width="1"/>
<line x1="461.50" y1="366.00" x2="461.50" y2="380.50" stroke="#1a1a1a" stroke-width="1"/>
<line x1="458.40" y1="366.50" x2="464.40" y2="366.50" stroke="#1a1a1a" stroke-width="1"/>
<line x1="458.40" y1="380.50" x2="464.40" y2="380.50" stroke="#1a1a1a" stroke-width="1"/>
<rect x="477.50" y="395.50" width="9.00" height="6.00" fill="#a6a6a6" stroke="#1a1a1a" stroke-width="1"/>
<rect x="486.50" y="382.50" width="8.00" height="19.00" fill="#606060" stroke="#1a1a1a" stroke-width="1"/>
<rect x="494.50" y="365.50" width="9.00" height="36.00" fill="#ffffff" stroke="#1a1a1a" stroke-width="1"/>
<line x1="481.50" y1="395.00" x2="481.50" y2="396.00" stroke="#1a1a1a" stroke-width="1"/>
<line x1="478.60" y1="395.50" x2="484.60" y2="395.50" stroke="#1a1a1a" stroke-width="1"/>
<line x1="478.60" y1="396.50" x2="484.60" y2="396.50" stroke="#1a1a1a" stroke-width="1"/>
<line x1="490.50" y1="379.50" x2="490.50" y2="385.50" stroke="#1a1a1a" stroke-width="1"/>
<line x1="487.30" y1="379.50" x2="493.30" y2="379.50" stroke="#1a1a1a" stroke-width="1"/>
<line x1="487.30" y1="385.50" x2="493.30" y2="385.50" stroke="#1a1a1a" stroke-width="1"/>
<line x1="499.50" y1="357.80" x2="499.50" y2="374.80" stroke="#1a1a1a" stroke-width="1"/>
<line x1="496.10" y1="357.50" x2="502.10" y2="357.50" stroke="#1a1a1a" stroke-width="1"/>
<line x1="496.10" y1="374.50" x2="502.10" y2="374.50" stroke="#1a1a1a" stroke-width="1"/>
<polygon points="371.20,364.55 371.85,366.41 373.82,366.45 372.25,367.64 372.82,369.52 371.20,368.40 369.58,369.52 370.15,367.64 368.58,366.45 370.55,366.41" fill="#111" stroke="#111" stroke-width="0.4" stroke-linejoin="round"/>
<polygon points="378.80,364.55 379.45,366.41 381.42,366.45 379.85,367.64 380.42,369.52 378.80,368.40 377.18,369.52 377.75,367.64 376.18,366.45 378.15,366.41" fill="#111" stroke="#111" stroke-width="0.4" stroke-linejoin="round"/>
<polygon points="384.70,386.25 385.35,388.11 387.32,388.15 385.75,389.34 386.32,391.22 384.70,390.10 383.08,391.22 383.65,389.34 382.08,388.15 384.05,388.11" fill="#111" stroke="#111" stroke-width="0.4" stroke-linejoin="round"/>
<polygon points="392.30,386.25 392.95,388.11 394.92,388.15 393.35,389.34 393.92,391.22 392.30,390.10 390.68,391.22 391.25,389.34 389.68,388.15 391.65,388.11" fill="#111" stroke="#111" stroke-width="0.4" stroke-linejoin="round"/>
<polygon points="408.20,364.55 408.85,366.41 410.82,366.45 409.25,367.64 409.82,369.52 408.20,368.40 406.58,369.52 407.15,367.64 405.58,366.45 407.55,366.41" fill="#111" stroke="#111" stroke-width="0.4" stroke-linejoin="round"/>
<polygon points="415.80,364.55 416.45,366.41 418.42,366.45 416.85,367.64 417.42,369.52 415.80,368.40 414.18,369.52 414.75,367.64 413.18,366.45 415.15,366.41" fill="#111" stroke="#111" stroke-width="0.4" stroke-linejoin="round"/>
<polygon points="420.70,321.95 421.35,323.81 423.32,323.85 421.75,325.04 422.32,326.92 420.70,325.80 419.08,326.92 419.65,325.04 418.08,323.85 420.05,323.81" fill="#111" stroke="#111" stroke-width="0.4" stroke-linejoin="round"/>
<polygon points="428.30,321.95 428.95,323.81 430.92,323.85 429.35,325.04 429.92,326.92 428.30,325.80 426.68,326.92 427.25,325.04 425.68,323.85 427.65,323.81" fill="#111" stroke="#111" stroke-width="0.4" stroke-linejoin="round"/>
<polygon points="446.50,370.75 447.15,372.61 449.12,372.65 447.55,373.84 448.12,375.72 446.50,374.60 444.88,375.72 445.45,373.84 443.88,372.65 445.85,372.61" fill="#111" stroke="#111" stroke-width="0.4" stroke-linejoin="round"/>
<polygon points="454.10,370.75 454.75,372.61 456.72,372.65 455.15,373.84 455.72,375.72 454.10,374.60 452.48,375.72 453.05,373.84 451.48,372.65 453.45,372.61" fill="#111" stroke="#111" stroke-width="0.4" stroke-linejoin="round"/>
<polygon points="459.90,360.75 460.55,362.61 462.52,362.65 460.95,363.84 461.52,365.72 459.90,364.60 458.28,365.72 458.85,363.84 457.28,362.65 459.25,362.61" fill="#111" stroke="#111" stroke-width="0.4" stroke-linejoin="round"/>
<polygon points="467.50,360.75 468.15,362.61 470.12,362.65 468.55,363.84 469.12,365.72 467.50,364.60 465.88,365.72 466.45,363.84 464.88,362.65 466.85,362.61" fill="#111" stroke="#111" stroke-width="0.4" stroke-linejoin="round"/>
<polygon points="482.00,370.75 482.65,372.61 484.62,372.65 483.05,373.84 483.62,375.72 482.00,374.60 480.38,375.72 480.95,373.84 479.38,372.65 481.35,372.61" fill="#111" stroke="#111" stroke-width="0.4" stroke-linejoin="round"/>
<polygon points="489.60,370.75 490.25,372.61 492.22,372.65 490.65,373.84 491.22,375.72 489.60,374.60 487.98,375.72 488.55,373.84 486.98,372.65 488.95,372.61" fill="#111" stroke="#111" stroke-width="0.4" stroke-linejoin="round"/>
<polygon points="496.20,348.55 496.85,350.41 498.82,350.45 497.25,351.64 497.82,353.52 496.20,352.40 494.58,353.52 495.15,351.64 493.58,350.45 495.55,350.41" fill="#111" stroke="#111" stroke-width="0.4" stroke-linejoin="round"/>
<polygon points="503.80,348.55 504.45,350.41 506.42,350.45 504.85,351.64 505.42,353.52 503.80,352.40 502.18,353.52 502.75,351.64 501.18,350.45 503.15,350.41" fill="#111" stroke="#111" stroke-width="0.4" stroke-linejoin="round"/>
<text x="330.00" y="350.70" font-size="11.7" font-weight="bold" font-style="normal" text-anchor="middle" fill="#111111" stroke="#111111" stroke-width="0.35" transform="rotate(-90 330.00 350.70)" >Apoptotic cells in thymocytes (%)</text>
<rect x="420.50" y="280.50" width="6.00" height="6.00" fill="#a6a6a6" stroke="#1a1a1a" stroke-width="1"/>
<text x="431.50" y="286.50" font-size="10.5" font-weight="bold" font-style="normal" text-anchor="start" fill="#111111" stroke="#111111" stroke-width="0.35" >WT</text>
<rect x="420.50" y="290.50" width="6.00" height="6.00" fill="#606060" stroke="#1a1a1a" stroke-width="1"/>
<text x="431.50" y="297.20" font-size="10.5" font-weight="bold" font-style="normal" text-anchor="start" fill="#111111" stroke="#111111" stroke-width="0.35" >Rac1<tspan dy="-3.5" dx="0.8" font-size="12">-/-</tspan></text>
<rect x="420.50" y="301.50" width="6.00" height="6.00" fill="#ffffff" stroke="#1a1a1a" stroke-width="1"/>
<text x="431.50" y="307.90" font-size="10.5" font-weight="bold" font-style="normal" text-anchor="start" fill="#111111" stroke="#111111" stroke-width="0.35" >Rac1<tspan dy="-3.5" dx="0.8" font-size="12">-/-</tspan><tspan dy="3.5" dx="1.2">/Rac2</tspan><tspan dy="-3.5" dx="0.8" font-size="12">-/-</tspan></text>
<text x="370.00" y="409.00" font-size="12" font-weight="bold" font-style="normal" text-anchor="start" fill="#111111" stroke="#111111" stroke-width="0.35" transform="rotate(43.5 370.00 409.00)" >CD4<tspan dy="-4.7" dx="0.9" font-size="13">-</tspan><tspan dy="4.7" dx="1.2">CD8</tspan><tspan dy="-4.7" dx="0.9" font-size="13">-</tspan><tspan dy="4.7" dx="1.2"></tspan></text>
<text x="409.30" y="408.80" font-size="12" font-weight="bold" font-style="normal" text-anchor="start" fill="#111111" stroke="#111111" stroke-width="0.35" transform="rotate(43.5 409.30 408.80)" >CD4<tspan dy="-4.6" dx="-0.45" font-size="11">+</tspan><tspan dy="4.6" dx="-0.15">CD8</tspan><tspan dy="-4.6" dx="-0.45" font-size="11">+</tspan><tspan dy="4.6" dx="-0.15"></tspan></text>
<text x="447.70" y="408.80" font-size="12" font-weight="bold" font-style="normal" text-anchor="start" fill="#111111" stroke="#111111" stroke-width="0.35" transform="rotate(43.5 447.70 408.80)" >CD4<tspan dy="-4.6" dx="-0.45" font-size="11">+</tspan><tspan dy="4.6" dx="-0.15"></tspan></text>
<text x="484.80" y="408.80" font-size="12" font-weight="bold" font-style="normal" text-anchor="start" fill="#111111" stroke="#111111" stroke-width="0.35" transform="rotate(43.5 484.80 408.80)" >CD8<tspan dy="-4.6" dx="-0.45" font-size="11">+</tspan><tspan dy="4.6" dx="-0.15"></tspan></text>
</g>
</svg>
</body></html>
